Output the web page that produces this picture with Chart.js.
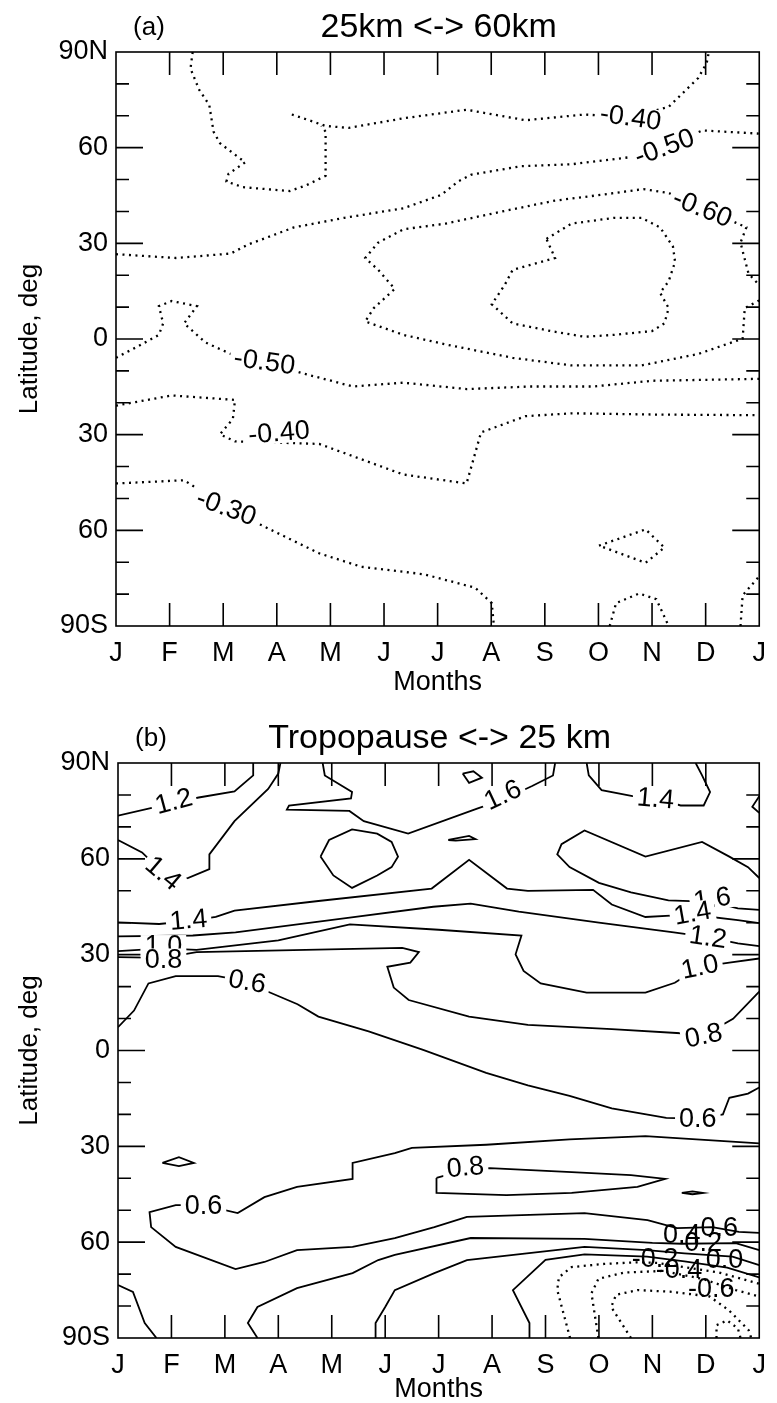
<!DOCTYPE html>
<html>
<head>
<meta charset="utf-8">
<script src="https://cdn.jsdelivr.net/npm/chart.js@4.4.1/dist/chart.umd.min.js"></script>
<style>
  body { margin: 0; background: #fff; width: 777px; height: 1403px; position: relative; overflow: hidden; }
  .panel { position: absolute; left: 0; }
</style>
</head>
<body>
<div class="panel" style="top:0"><canvas id="chartA" width="777" height="700"></canvas></div>
<div class="panel" style="top:700px"><canvas id="chartB" width="777" height="703"></canvas></div>
<script>
// axis labels
const months = ['J', 'F', 'M', 'A', 'M', 'J', 'J', 'A', 'S', 'O', 'N', 'D', 'J'];
const latTickValues = [-90, -60, -30, 0, 30, 60, 90];
const latTickText = ['90S', '60', '30', '0', '30', '60', '90N'];

// ---- panel (a) contours: [month, latitude] ----
const a_loopNW = [[1.43,90],[1.39,84.8],[1.55,78.2],[1.74,73.4],[1.82,65.0],[1.94,61.4],[2.22,57.8],[2.41,55.4],[2.10,51.8],[2.06,49.4],[2.37,47.6],[3.24,46.4],[3.55,48.2],[3.91,51.2],[3.91,65.0],[3.83,66.8]];
const a_m040n = [[3.28,70.4],[3.60,68.6],[3.91,66.8],[4.34,66.2],[5.36,69.2],[6.54,71.9],[7.64,68.6],[8.74,70.4],[9.6,69.5],[10.31,72.8],[10.86,81.8],[11.02,86.6],[11.06,90]];
const a_m050n = [[0,26.6],[1.12,25.4],[2.14,26.8],[2.46,29.6],[3.32,35.0],[4.26,38.0],[5.36,41.0],[6.07,45.2],[6.38,49.4],[6.62,51.5],[7.56,54.2],[8.50,54.8],[9.68,57.2],[10.23,60.2],[10.94,65.4],[12,64.4]];
const a_m060 = [[12,12.1],[11.73,9.7],[11.69,0.1],[10.86,-4.7],[9.80,-8.3],[8.50,-8.3],[7.40,-5.9],[6.15,-1.7],[5.36,1.3],[4.65,5.5],[4.81,9.7],[5.20,15.7],[4.89,21.7],[4.65,25.4],[4.89,30.2],[5.36,34.4],[6.15,36.2],[7.32,40.4],[8.19,43.4],[9.05,45.2],[9.84,47.0],[10.31,45.8],[10.94,41.0],[11.57,36.4],[11.76,35.0],[11.65,30.2],[11.80,20.5],[12,16.9]];
const a_m070 = [[8.03,31.4],[8.50,36.2],[9.29,38.0],[9.80,38.0],[10.15,35.0],[10.39,29.0],[10.43,24.2],[10.31,18.1],[10.15,14.5],[10.31,9.7],[10.23,4.9],[10.00,2.5],[9.29,1.3],[8.74,0.7],[8.11,2.5],[7.40,4.9],[7.01,10.9],[7.25,16.9],[7.40,21.7],[8.19,25.4],[8.11,28.4],[8.03,31.4]];
const a_m050s = [[0,-5.9],[0.41,-2.3],[0.80,1.3],[0.88,4.9],[0.80,10.3],[1.04,11.9],[1.51,10.3],[1.27,4.9],[1.67,-1.1],[2.22,-5.3],[2.77,-7.1],[3.47,-10.7],[4.42,-14.9],[5.36,-13.7],[6.54,-15.7],[7.72,-14.9],[8.90,-14.9],[10.0,-13.1],[12,-12.5]];
const a_m040s = [[0,-20.9],[1.04,-17.7],[2.22,-19.1],[2.18,-25.1],[1.94,-29.9],[2.22,-32.1],[3.79,-32.9],[5.36,-42.5],[6.54,-45.3],[6.81,-29.3],[7.64,-24.2],[8.50,-23.3],[10.08,-23.7],[12,-23.9]];
const a_m030 = [[0,-45.3],[1.27,-44.3],[2.06,-52.8],[2.69,-58.2],[3.79,-67.2],[4.57,-71.4],[5.75,-73.8],[6.70,-78.0],[7.01,-82.8],[7.05,-90]];
const a_loopS = [[9.01,-64.8],[9.88,-59.7],[10.23,-65.4],[9.88,-70.2],[9.01,-64.8]];
const a_arcS = [[9.21,-90],[9.33,-82.8],[9.76,-79.8],[10.08,-81.6],[10.31,-90]];
const a_edgeS = [[11.65,-90],[11.69,-80.4],[12,-74.4]];

const linesA = [a_loopNW, a_m040n, a_m050n, a_m060, a_m070, a_m050s, a_m040s, a_m030, a_loopS, a_arcS, a_edgeS];
const levelsA = [-0.4, -0.4, -0.5, -0.6, -0.7, -0.5, -0.4, -0.3, -0.3, -0.3, -0.3];
// [text, month, latitude, angle]
const labelsA = [['-0.40',9.6,69.5,8],['-0.50',10.23,60.2,-20],['-0.60',10.94,41.0,22],['-0.50',2.77,-7.1,8],['-0.40',3.04,-29.3,-5],['-0.30',2.06,-52.8,20]];

// ---- panel (b) contours ----
const b_12top = [[0,73.5],[1.04,77.5],[1.51,79.2],[2.18,81.1],[2.53,86.1],[2.53,90]];
const b_14top = [[0,65.9],[0.45,62.0],[0.85,55.5],[1.24,53.5],[1.71,56.8],[1.71,61.4],[2.18,71.8],[2.81,81.9],[3.0,86.7],[3.04,90]];
const b_16top = [[3.83,90],[3.87,86.1],[4.38,80.9],[4.36,78.9],[3.20,76.7],[3.16,75.4],[4.33,75.0],[4.60,71.8],[5.43,67.9],[6.72,75.7],[7.2,78.5],[7.75,82.8],[8.14,86.1],[8.18,90]];
const b_loopTop = [[6.45,86.7],[6.65,87.4],[6.81,85.4],[6.57,83.8],[6.45,86.7]];
const b_loopThin = [[6.18,65.9],[6.57,67.2],[6.69,66.2],[6.32,65.7],[6.18,65.9]];
const b_hex = [[3.79,60.7],[3.95,65.9],[4.38,69.2],[4.85,67.9],[5.12,65.3],[5.24,60.7],[5.12,57.4],[4.85,54.8],[4.38,50.9],[4.03,54.8],[3.79,60.7]];
const b_14ne = [[8.77,90],[8.81,86.1],[9.05,81.5],[9.63,79.6],[10.06,78.9],[10.53,76.7],[10.96,76.7],[11.08,80.9],[10.93,86.1],[10.81,90]];
const b_edgeNE = [[12,79.6],[11.87,76.3],[12,74.4]];
const b_16tongue = [[12,54],[11.79,57.4],[11.44,60.7],[10.93,65.3],[9.87,60.7],[8.73,68.9],[8.30,64.6],[8.22,61.4],[8.45,57.4],[9.0,52.5],[9.6,49.5],[10.3,47],[11.12,46.5],[11.6,44.5],[12,44]];
const b_14low = [[0,40.1],[0.77,39.6],[1.32,40.5],[1.83,41.8],[2.18,43.8],[3.75,46.8],[5.87,50.7],[6.57,59.7],[7.28,50.7],[7.67,50.0],[8.89,50.3],[9.24,45.7],[9.87,41.8],[10.34,42.2],[10.75,42.5],[11.6,40.8],[12,39.9]];
const b_12 = [[0,35.7],[1.4,36],[2.2,37],[4.3,41.5],[5.9,45],[6.6,46],[7.5,43.5],[9.0,40],[10.4,37],[11.04,35.5],[11.6,33.5],[12,32.7]];
const b_10 = [[0,31.1],[0.85,32],[1.47,31.5],[3.0,34.5],[4.34,39.5],[6.0,37.8],[7.55,36.0],[7.44,30.1],[7.59,24.9],[7.91,21.0],[8.77,18.1],[9.87,18.1],[10.42,21.2],[10.89,26.2],[11.44,27.5],[12,28.8]];
const b_08 = [[0,29.2],[0.85,29],[1.47,30.8],[5.32,32.1],[5.63,30.8],[5.47,27.5],[5.04,26.2],[5.16,19.7],[5.44,15.8],[6.57,10.6],[7.67,8.0],[9.24,6.7],[10.53,5.4],[10.96,4.7],[11.51,9.9],[12,18.4]];
const b_06 = [[0,7.3],[0.30,12.5],[0.57,21.0],[1.08,23.3],[1.87,23.3],[2.42,21.6],[2.81,18.4],[3.36,14.5],[3.75,10.6],[4.69,6.0],[5.71,0.2],[6.89,-7.0],[7.67,-10.9],[8.45,-14.2],[9.24,-18.1],[10.26,-21.1],[10.85,-21.3],[11.32,-20.0],[11.44,-14.8],[11.79,-13.5],[12,-11.6]];
const b_06s = [[12,-29.1],[9.87,-26.8],[8.45,-27.8],[6.89,-29.5],[5.5,-30.5],[5.18,-32.1],[4.39,-35.2],[4.39,-40.2],[3.35,-42.7],[2.74,-45.9],[2.24,-50.9],[1.6,-48.4],[1.08,-48.4],[0.59,-50.6],[0.62,-55.3],[1.08,-61.5],[2.2,-68.4],[2.74,-66.2],[3.35,-62.5],[4.39,-61.5],[5.18,-58.7],[5.92,-55.3],[6.53,-52.1],[8.73,-50.9],[9.91,-53.1],[10.46,-55.6],[11.12,-55.3],[11.62,-56.8],[12,-57.1]];
const b_08s = [[5.96,-39.9],[6.47,-37.5],[6.96,-36.8],[8.49,-38.1],[9.6,-39.0],[10.24,-40.2],[9.72,-42.7],[8.49,-44.6],[7.27,-45.3],[5.96,-44.6],[5.96,-39.9]];
const b_dotW = [[0.83,-35.2],[1.14,-33.4],[1.42,-35.2],[1.14,-36.2],[0.83,-35.2]];
const b_dotE = [[10.55,-44.6],[10.75,-44.1],[10.95,-44.6],[10.75,-45.0],[10.55,-44.6]];
const b_sw = [[0,-73.4],[0.28,-75.6],[0.5,-85.3],[0.72,-90]];
const b_04 = [[2.61,-90],[2.43,-85.3],[2.61,-80.3],[3.35,-74.4],[4.39,-69.7],[4.87,-65.6],[5.18,-64.0],[6.6,-58.7],[8.73,-59.0],[10.0,-60.2],[10.55,-60.5],[11.56,-60.3],[12,-62.5]];
const b_02 = [[4.82,-90],[4.82,-85.3],[5.0,-80.3],[5.18,-75],[5.92,-69.7],[6.53,-65.6],[8.73,-61.5],[9.9,-62.5],[10.6,-63.5],[11.5,-64.5],[12,-67.2]];
const b_00 = [[7.7,-90],[7.7,-85.3],[7.39,-75],[8.0,-65.5],[8.73,-63.8],[9.9,-64.5],[10.6,-66],[11.4,-68],[12,-71]];
const b_m02 = [[8.46,-90],[8.22,-75],[8.25,-71],[8.49,-67.8],[9.1,-66.8],[9.72,-66.3],[10.1,-66.5],[11.25,-69.5],[12,-73]];
const b_m04 = [[8.99,-90],[8.86,-76],[8.99,-71.5],[9.47,-69.5],[10.2,-69],[10.94,-71.5],[11.56,-75],[12,-77]];
const b_m06 = [[9.6,-90],[9.23,-80.3],[9.32,-76.5],[9.72,-75],[10.33,-75.5],[11.07,-77],[11.43,-81.3],[11.8,-87.5],[11.85,-90]];
const b_m08 = [[11.2,-90],[11.2,-86],[11.4,-84.5],[11.6,-87],[11.65,-90]];

const linesB = [b_12top, b_14top, b_16top, b_loopTop, b_loopThin, b_hex, b_14ne, b_edgeNE, b_16tongue, b_14low, b_12, b_10, b_08, b_06, b_06s, b_08s, b_dotW, b_dotE, b_sw, b_04, b_02, b_00, b_m02, b_m04, b_m06, b_m08];
const levelsB = [1.2, 1.4, 1.6, 1.8, 1.8, 1.8, 1.4, 1.4, 1.6, 1.4, 1.2, 1.0, 0.8, 0.6, 0.6, 0.8, 0.8, 0.8, 0.4, 0.4, 0.2, 0.0, -0.2, -0.4, -0.6, -0.8];
const labelsB = [['1.2',1.04,78.0,-15],['1.4',0.85,55.5,40],['1.6',7.2,80.0,-25],['1.4',10.06,78.9,5],['1.4',1.32,40.9,-5],['1.0',0.85,32.7,0],['0.8',0.85,28.5,0],['0.6',2.42,21.6,10],['1.6',11.12,47.5,-8],['1.4',10.75,43.0,-10],['1.2',11.04,35.5,8],['1.0',10.89,26.2,-12],['0.8',10.96,4.7,-12],['0.6',10.85,-21.3,0],['0.8',6.5,-36.5,-5],['0.6',1.6,-48.4,0]];
// overlapping labels in the south-east corner (no gap in lines)
const clusterB = [['-0.2',10.05,-65,0],['0.4',10.55,-57.5,0],['0.2',10.95,-60,0],['0.0',11.35,-65.5,0],['-0.4',10.5,-68.5,0],['0.6',11.25,-55.3,0],['-0.6',11.1,-74.5,0]];

const FONT = '"Liberation Sans", Arial, Helvetica, sans-serif';

function toDatasets(lines, levels) {
  return lines.map((pts, i) => {
    const neg = levels[i] < 0;
    return {
      data: pts.map(p => ({ x: p[0], y: p[1] })),
      showLine: true,
      pointRadius: 0,
      borderColor: '#000',
      borderWidth: neg ? 2.3 : 1.8,
      borderDash: neg ? [2, 4.5] : [],
      tension: 0,
      fill: false
    };
  });
}

// inward tick marks, frame, panel title and contour labels
const decorPlugin = {
  id: 'decor',
  afterDatasetsDraw(chart, args, opts) {
    const { ctx, chartArea: a, scales: { x, y } } = chart;
    ctx.save();
    ctx.strokeStyle = '#000';
    ctx.lineWidth = 1.6;
    ctx.beginPath();
    for (let m = 1; m < 12; m++) {
      const px = x.getPixelForValue(m);
      ctx.moveTo(px, a.bottom); ctx.lineTo(px, a.bottom - 23);
      ctx.moveTo(px, a.top); ctx.lineTo(px, a.top + 23);
    }
    for (let lat = -80; lat <= 80; lat += 10) {
      const py = y.getPixelForValue(lat);
      const len = lat % 30 === 0 ? 27 : 13;
      ctx.moveTo(a.left, py); ctx.lineTo(a.left + len, py);
      ctx.moveTo(a.right, py); ctx.lineTo(a.right - len, py);
    }
    ctx.stroke();
    ctx.strokeRect(a.left, a.top, a.right - a.left, a.bottom - a.top);

    // contour labels
    ctx.fillStyle = '#000';
    ctx.textAlign = 'center';
    ctx.textBaseline = 'middle';
    ctx.font = '27px ' + FONT;
    const drawLabel = (l, gap) => {
      const px = x.getPixelForValue(l[1]);
      const py = y.getPixelForValue(l[2]);
      ctx.save();
      ctx.translate(px, py);
      ctx.rotate(l[3] * Math.PI / 180);
      if (gap) {
        const w = ctx.measureText(l[0]).width;
        ctx.fillStyle = '#fff';
        ctx.fillRect(-w / 2 - 4, -11, w + 8, 22);
        ctx.fillStyle = '#000';
      }
      ctx.fillText(l[0], 0, 1);
      ctx.restore();
    };
    (opts.labels || []).forEach(l => drawLabel(l, true));
    (opts.cluster || []).forEach(l => drawLabel(l, false));

    // panel heading
    ctx.textBaseline = 'middle';
    ctx.font = '26px ' + FONT;
    ctx.textAlign = 'center';
    ctx.fillText(opts.tag, a.left + 33, a.top - 24);
    ctx.font = '34px ' + FONT;
    ctx.fillText(opts.title, (a.left + a.right) / 2 + 1, a.top - 24);
    ctx.restore();
  }
};

function makeChart(id, lines, levels, labels, cluster, tag, title, pad, yWidth, xHeight, xTitlePad) {
  return new Chart(document.getElementById(id), {
    type: 'scatter',
    data: { datasets: toDatasets(lines, levels) },
    options: {
      responsive: false,
      animation: false,
      devicePixelRatio: 1,
      layout: { padding: pad },
      plugins: {
        legend: { display: false },
        tooltip: { enabled: false },
        decor: { labels: labels, cluster: cluster, tag: tag, title: title }
      },
      scales: {
        x: {
          type: 'linear', min: 0, max: 12,
          afterFit: s => { s.height = xHeight; },
          grid: { display: false, drawTicks: false },
          border: { display: false },
          ticks: {
            stepSize: 1, autoSkip: false, maxRotation: 0, padding: 11,
            color: '#000', font: { family: FONT, size: 27 },
            callback: v => months[v]
          },
          title: { display: true, text: 'Months', color: '#000', font: { family: FONT, size: 27, lineHeight: 1 }, padding: { top: 0, bottom: xTitlePad } }
        },
        y: {
          type: 'linear', min: -90, max: 90,
          afterFit: s => { s.width = yWidth; },
          grid: { display: false, drawTicks: false },
          border: { display: false },
          ticks: {
            stepSize: 10, autoSkip: false, padding: 8,
            color: '#000', font: { family: FONT, size: 27 },
            callback: v => { const k = latTickValues.indexOf(v); return k >= 0 ? latTickText[k] : ''; }
          },
          title: { display: true, text: 'Latitude, deg', color: '#000', font: { family: FONT, size: 26, lineHeight: 1 }, padding: { top: 17, bottom: 0 } }
        }
      }
    },
    plugins: [decorPlugin]
  });
}

makeChart('chartA', linesA, levelsA, labelsA, [], '(a)', '25km <-> 60km', { top: 52, right: 8, left: 0, bottom: 0 }, 116, 74, 4);
makeChart('chartB', linesB, levelsB, labelsB, clusterB, '(b)', 'Tropopause <-> 25 km', { top: 63, right: 6, left: 0, bottom: 0 }, 118, 65, 0);
</script>
</body>
</html>
